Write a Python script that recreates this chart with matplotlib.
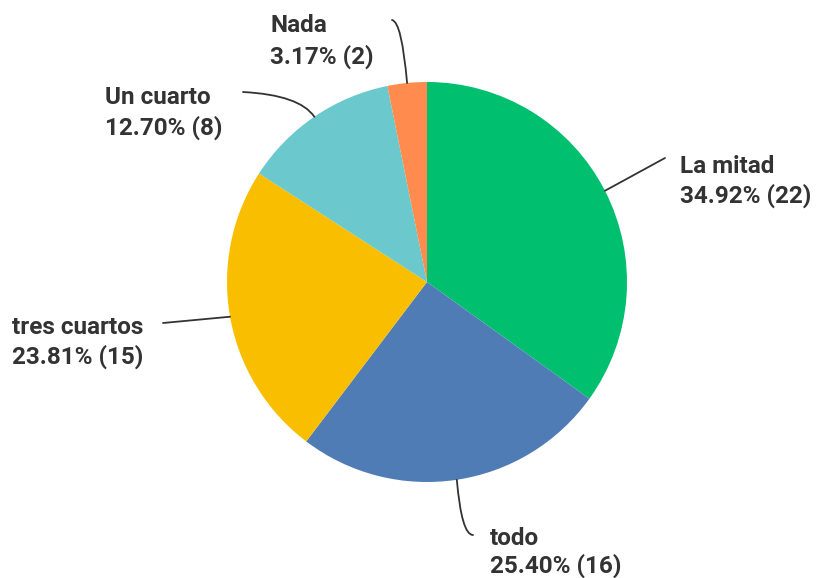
import numpy as np
import matplotlib.pyplot as plt

# data
labels = ['La mitad', 'todo', 'tres cuartos', 'Un cuarto', 'Nada']
counts = [22, 16, 15, 8, 2]
pcts = [34.92, 25.40, 23.81, 12.70, 3.17]
colors = ['#00BF6F', '#507CB6', '#F9BE00', '#6BC8CD', '#FF8B4F']

W, H = 818, 578
fig = plt.figure(figsize=(W / 100, H / 100), dpi=100)
ax = fig.add_axes([0, 0, 1, 1])

def yy(py):
    # image pixel row -> data y
    return H - py

cx, cy, r = 427, 282, 200
wedges, _ = ax.pie(counts, colors=colors, startangle=90, counterclock=False,
                   center=(cx, yy(cy)), radius=r, frame=True,
                   wedgeprops=dict(linewidth=0))
ax.set_xlim(0, W)
ax.set_ylim(0, H)
ax.set_aspect('equal')
ax.axis('off')

# label layout: text left x, baselines of two lines, leader end, connection style
layout = {
    'La mitad': (680, 173, 203, (665, 158), 'arc3,rad=0'),
    'todo': (490, 545, 573, (473, 535), 'angle3,angleA=0,angleB=95'),
    'tres cuartos': (12, 334, 364, (163, 323), 'arc3,rad=0'),
    'Un cuarto': (105, 104, 135, (243, 92), 'angle3,angleA=-3,angleB=124'),
    'Nada': (270, 32, 64, (392, 20), 'angle3,angleA=-10,angleB=95'),
}

font = dict(family=['Roboto', 'DejaVu Sans'], fontweight='bold', fontsize=17.5, color='#333333')

for w, lab, n, p in zip(wedges, labels, counts, pcts):
    ang = np.deg2rad((w.theta1 + w.theta2) / 2)
    ex = cx + r * np.cos(ang)
    ey = yy(cy) + r * np.sin(ang)
    tx, b1, b2, (lx, ly), cs = layout[lab]
    ax.annotate('', xy=(ex, ey), xytext=(lx, yy(ly)),
                arrowprops=dict(arrowstyle='-', color='#333333', lw=1.3,
                                shrinkA=0, shrinkB=0, connectionstyle=cs))
    ax.text(tx, yy(b1), lab, va='baseline', ha='left', **font)
    ax.text(tx, yy(b2), f'{p:.2f}% ({n})', va='baseline', ha='left', **font)

fig.savefig('out.png', dpi=100)
